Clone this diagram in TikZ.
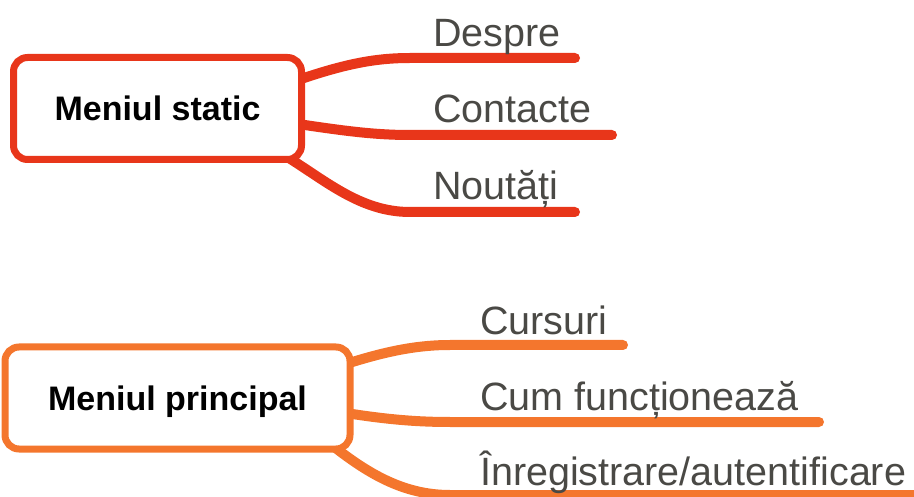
\documentclass[tikz,border=0pt]{standalone}
\usepackage{fontspec}
\setmainfont{Liberation Sans}
\definecolor{redc}{HTML}{E8361A}
\definecolor{orc}{HTML}{F4762D}
\definecolor{txtc}{HTML}{4A4945}
\tikzset{
  menubox/.style={draw=#1, fill=white, line width=7pt, rounded corners=14pt,
    minimum width=288pt, minimum height=102pt, inner sep=0pt,
    font=\fontsize{34}{40}\selectfont\bfseries, text height=25pt, text depth=0pt},
  branch/.style={draw=#1, line width=10pt, line cap=round},
  leaf/.style={anchor=base west, inner sep=0pt, text=txtc, font=\fontsize{39.5}{46}\selectfont}
}
\begin{document}
\begin{tikzpicture}[x=1pt,y=-1pt]
\useasboundingbox (0,0) rectangle (914,497);
% ---- top group ----
\coordinate (d0) at (298,80);
\coordinate (d1) at (575,58);
\coordinate (c0) at (298,124);
\coordinate (c1) at (612,135);
\coordinate (n0) at (284,155);
\coordinate (n1) at (575,212);
\draw[branch=redc] (d0) .. controls (345,64) and (375,58) .. (410,58) -- (d1);
\draw[branch=redc] (c0) .. controls (345,131) and (375,135) .. (410,135) -- (c1);
\draw[branch=redc] (n0) .. controls (325,180) and (360,212) .. (410,212) -- (n1);
\node[menubox=redc, minimum width=288pt] (ms) at (157.5,108.5) {Meniul static};
\node[leaf] (despre) at (433,47) {Despre};
\node[leaf] (contacte) at (433,123) {Contacte};
\node[leaf] (noutati) at (433,200) {Noutăți};
% ---- bottom group ----
\coordinate (p0) at (346,364);
\coordinate (p1) at (623,345);
\coordinate (q0) at (346,413);
\coordinate (q1) at (819,422);
\coordinate (r0) at (333,446);
\coordinate (r1) at (930,495);
\draw[branch=orc] (p0) .. controls (390,350) and (420,345) .. (450,345) -- (p1);
\draw[branch=orc] (q0) .. controls (390,420) and (420,422) .. (450,422) -- (q1);
\draw[branch=orc] (r0) .. controls (370,475) and (405,495) .. (450,495) -- (r1);
\node[menubox=orc, minimum width=345pt] (mp) at (177.5,398) {Meniul principal};
\node[leaf] (cursuri) at (480,335) {Cursuri};
\node[leaf] (cum) at (480,410) {Cum funcționează};
\node[leaf] (inreg) at (480,485) {Înregistrare/autentificare};
\end{tikzpicture}
\end{document}
